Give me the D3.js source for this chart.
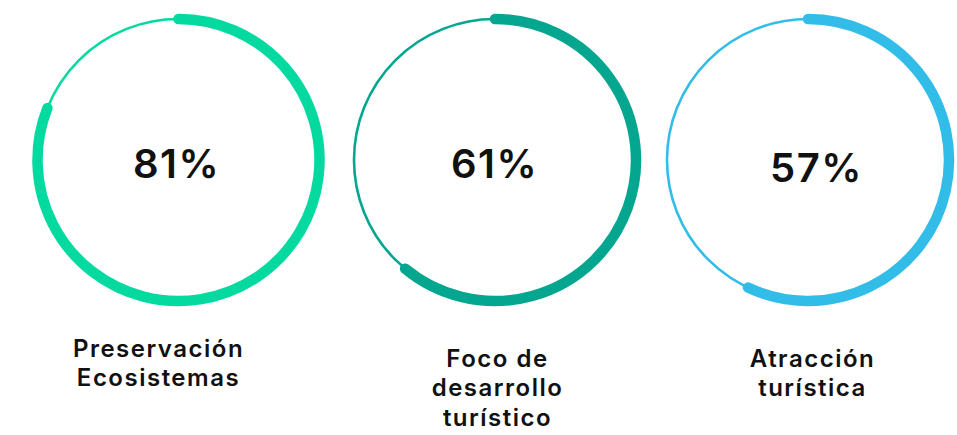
<!DOCTYPE html>
<html>
<head>
<meta charset="utf-8">
<script src="https://cdn.jsdelivr.net/npm/d3@7"></script>
<style>
  html, body { margin: 0; padding: 0; background: #ffffff; }
  svg { display: block; }
  text { font-family: Inter, "Open Sans", sans-serif; font-weight: 600; fill: #111111; }
</style>
</head>
<body>
<script>
// Share of respondents per topic
const categories = ["Preservación Ecosistemas", "Foco de desarrollo turístico", "Atracción turística"];
const labelLines = [["Preservación", "Ecosistemas"], ["Foco de", "desarrollo", "turístico"], ["Atracción", "turística"]];
const values = [81, 61, 57];

// Presentation
const colors = ["#04DAA0", "#05A68F", "#32BDE9"];
const centersX = [178.5, 495, 808];
const valueDx = [-2, -0.5, 8.5];
const valueY = [178, 178, 181.5];
const labelX = [158.5, 497.5, 812.5];
const labelY = [356.5, 366.5, 366.5];

const width = 957, height = 435;
const cy = 160, r = 141;
const lineHeight = 29.5;

const svg = d3.select("body").append("svg")
  .attr("width", width)
  .attr("height", height);

const angle = d3.scaleLinear().domain([0, 100]).range([0, 2 * Math.PI]);

const data = categories.map((c, i) => ({
  category: c, lines: labelLines[i], value: values[i], i
}));

const g = svg.selectAll("g.ring")
  .data(data)
  .join("g")
  .attr("class", "ring")
  .attr("transform", d => `translate(${centersX[d.i]},${cy})`);

// thin full track
g.append("circle")
  .attr("r", r)
  .attr("fill", "none")
  .attr("stroke", d => colors[d.i])
  .attr("stroke-width", 2.6);

// thick progress arc, clockwise from 12 o'clock
g.append("path")
  .attr("d", d => {
    const p = d3.path();
    p.arc(0, 0, r, -Math.PI / 2, angle(d.value) - Math.PI / 2, false);
    return p.toString();
  })
  .attr("fill", "none")
  .attr("stroke", d => colors[d.i])
  .attr("stroke-width", 10.5)
  .attr("stroke-linecap", "round");

// value in the middle
svg.selectAll("text.value")
  .data(data)
  .join("text")
  .attr("class", "value")
  .attr("x", d => centersX[d.i] + valueDx[d.i])
  .attr("y", d => valueY[d.i])
  .attr("text-anchor", "middle")
  .style("font-size", "40px")
  .style("letter-spacing", "1.5px")
  .text(d => d.value + "%");

// category label below
const labels = svg.selectAll("text.label")
  .data(data)
  .join("text")
  .attr("class", "label")
  .attr("text-anchor", "middle")
  .style("font-size", "24px")
  .style("letter-spacing", "1.5px");

labels.selectAll("tspan")
  .data(d => d.lines.map((t, k) => ({ t, k, i: d.i })))
  .join("tspan")
  .attr("x", d => labelX[d.i])
  .attr("y", d => labelY[d.i] + d.k * lineHeight)
  .text(d => d.t);
</script>
</body>
</html>
